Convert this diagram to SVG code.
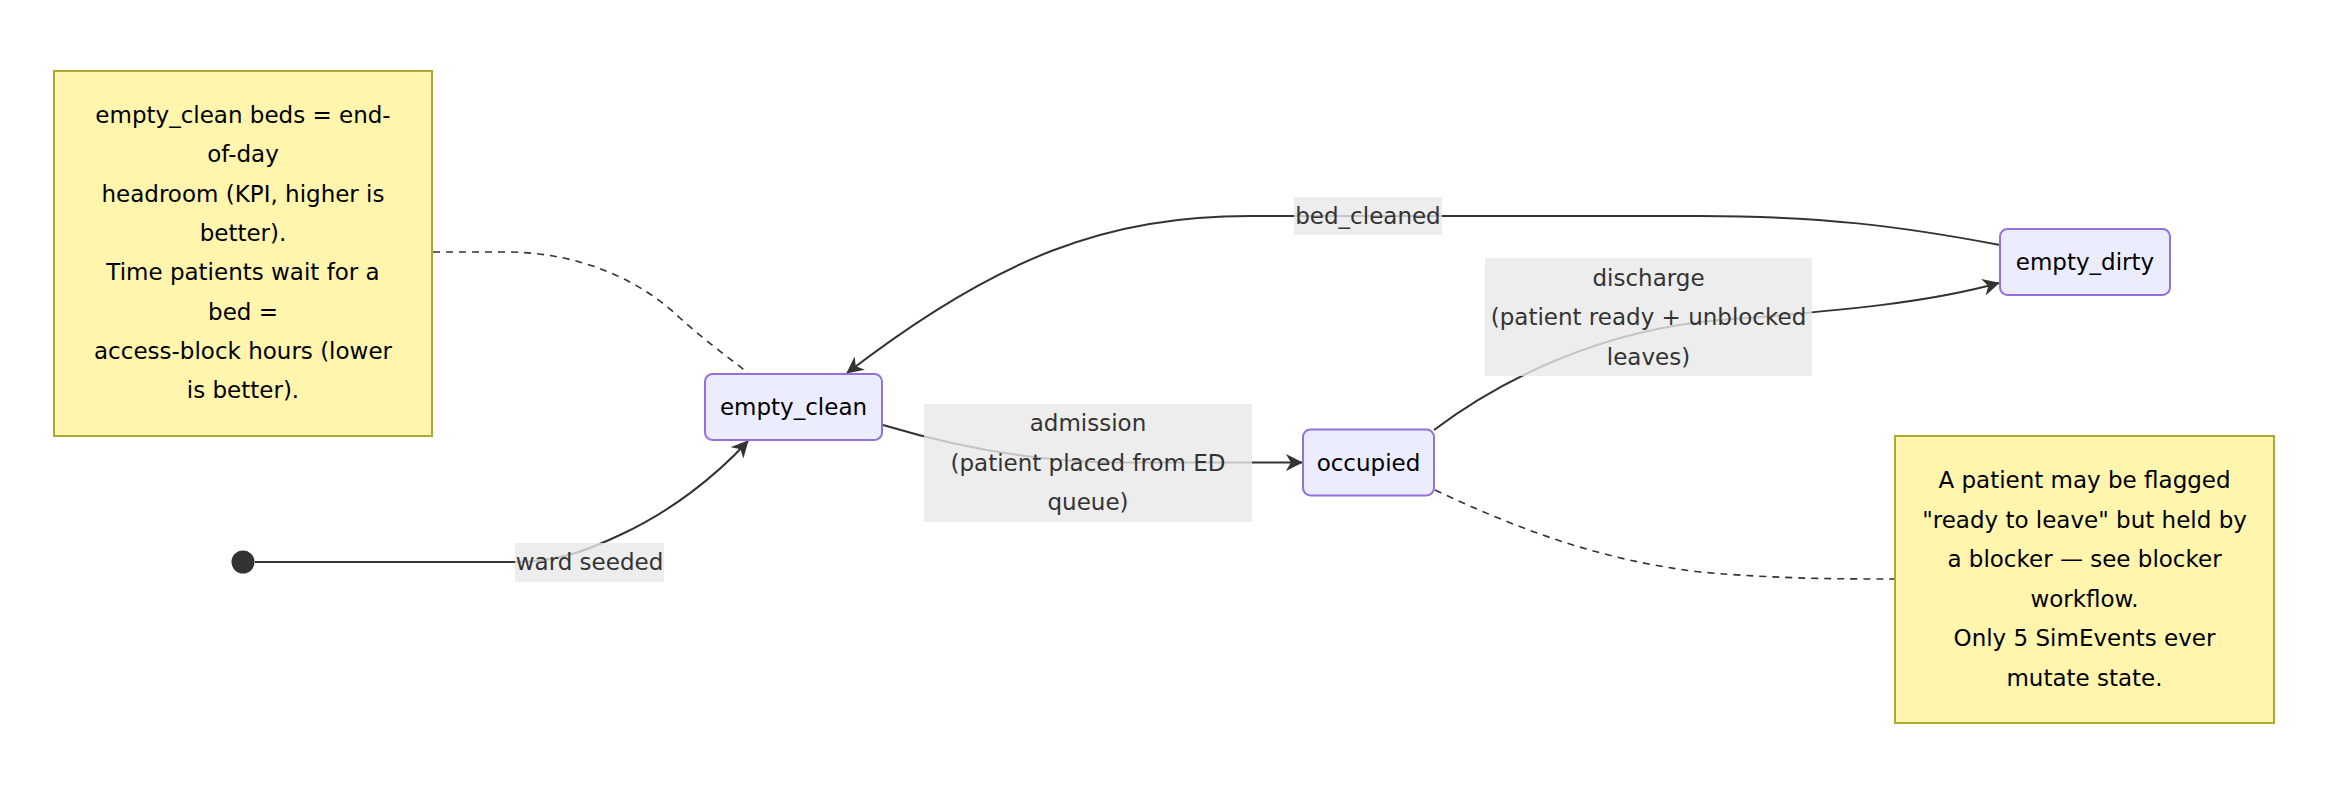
<svg xmlns="http://www.w3.org/2000/svg" width="2352" height="804" viewBox="0 0 2352 804">
<defs>
<style>
.node rect{fill:#ECECFF;stroke:#9370DB;stroke-width:2}
.note rect{fill:#fff5ad;stroke:#aaaa33;stroke-width:2}
text{font-family:"Trebuchet MS","DejaVu Sans",sans-serif;font-size:23px;text-anchor:middle;dominant-baseline:central}
.node text,.note text{fill:#000}
.lbl rect{fill:#e8e8e8;fill-opacity:0.8}
.lbl text{fill:#333}
.edge{fill:none;stroke:#333;stroke-width:2}
.dash{fill:none;stroke:#333;stroke-width:1.6;stroke-dasharray:7 6}
</style>
<marker id="arr" viewBox="0 0 10 10" refX="9.5" refY="5" markerWidth="17" markerHeight="17" markerUnits="userSpaceOnUse" orient="auto">
<path d="M0,0 L10,5 L0,10 L3,5 z" fill="#333"/>
</marker>
</defs>
<rect width="2352" height="804" fill="#fff"/>
<g id="connectors">
<path class="edge" d="M255,562 L515,562 C560,562 590,549 620,535 C670,512 715,477 748,441" marker-end="url(#arr)"/>
<path class="edge" d="M883,425 C960,448 1040,462.5 1120,462.5 L1302,462.5" marker-end="url(#arr)"/>
<path class="edge" d="M1434,430 C1500,380 1600,330 1720,320 C1850,310 1930,302 1999,283" marker-end="url(#arr)"/>
<path class="edge" d="M2000,245 C1900,226 1820,216 1700,216 L1250,216 C1110,216 1000,255 847,373" marker-end="url(#arr)"/>
<path class="dash" d="M433,252 L505,252 C580,252 640,280 680,318 C710,345 735,362 749,374"/>
<path class="dash" d="M1435,490 C1520,530 1600,560 1700,572 C1780,579 1840,579 1895,579"/>
</g>
<g id="start"><circle cx="243" cy="562" r="11.5" fill="#333"/></g>
<g id="label-ward" class="lbl"><rect x="515" y="543" width="149" height="39"/><text x="589.5" y="562">ward seeded</text></g>
<g id="label-admission" class="lbl"><rect x="924" y="404" width="328" height="118"/><text x="1088" y="423">admission</text><text x="1088" y="462.5">(patient placed from ED</text><text x="1088" y="502">queue)</text></g>
<g id="label-discharge" class="lbl"><rect x="1485" y="258" width="327" height="118"/><text x="1648.5" y="277.5">discharge</text><text x="1648.5" y="317">(patient ready + unblocked</text><text x="1648.5" y="356.5">leaves)</text></g>
<g id="label-bedcleaned" class="lbl"><rect x="1294" y="197" width="148" height="38"/><text x="1368" y="216">bed_cleaned</text></g>
<g id="empty_clean" class="node"><rect x="705" y="374" width="177" height="66" rx="7.5"/><text x="793.5" y="407">empty_clean</text></g>
<g id="occupied" class="node"><rect x="1303" y="429.5" width="131" height="66" rx="7.5"/><text x="1368.5" y="462.5">occupied</text></g>
<g id="empty_dirty" class="node"><rect x="2000" y="229" width="170" height="66" rx="7.5"/><text x="2085" y="262">empty_dirty</text></g>
<g id="note1" class="note"><rect x="54" y="71" width="378" height="365"/>
<text x="243" y="115">empty_clean beds = end-</text>
<text x="243" y="154.3">of-day</text>
<text x="243" y="193.6">headroom (KPI, higher is</text>
<text x="243" y="232.9">better).</text>
<text x="243" y="272.2">Time patients wait for a</text>
<text x="243" y="311.5">bed =</text>
<text x="243" y="350.8">access-block hours (lower</text>
<text x="243" y="390.1">is better).</text>
</g>
<g id="note2" class="note"><rect x="1895" y="436" width="379" height="287"/>
<text x="2084.5" y="480">A patient may be flagged</text>
<text x="2084.5" y="519.5">"ready to leave" but held by</text>
<text x="2084.5" y="559">a blocker — see blocker</text>
<text x="2084.5" y="598.5">workflow.</text>
<text x="2084.5" y="638">Only 5 SimEvents ever</text>
<text x="2084.5" y="677.5">mutate state.</text>
</g>
</svg>
